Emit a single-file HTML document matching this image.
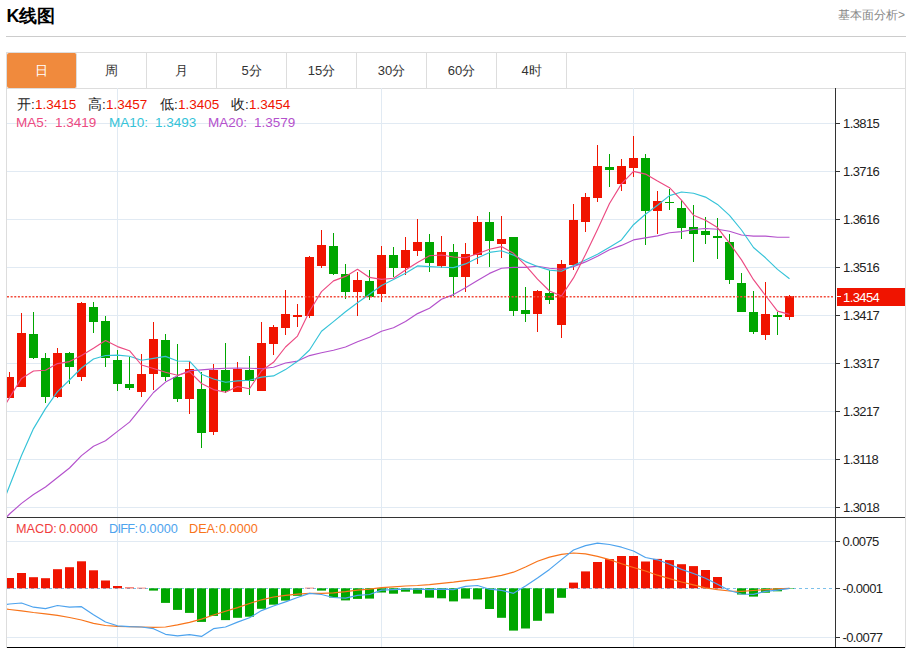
<!DOCTYPE html>
<html><head><meta charset="utf-8"><style>
html,body{margin:0;padding:0;background:#fff;width:913px;height:648px;overflow:hidden;font-family:"Liberation Sans",sans-serif;}
.title{position:absolute;left:6.5px;top:4px;font-size:18px;font-weight:bold;color:#000;line-height:24px;}
.more{position:absolute;right:8px;top:7px;font-size:12px;color:#888;line-height:16px;}
.hr{position:absolute;left:6px;top:36px;width:900px;height:1px;background:#ccc;}
.box{position:absolute;left:6px;top:52px;width:898px;height:600px;border:1px solid #ddd;border-bottom:none;}
.tabs{position:absolute;left:7px;top:53px;height:35px;width:898px;border-bottom:1px solid #ddd;}
.tab{position:absolute;top:0;width:69px;height:35px;border-right:1px solid #ddd;text-align:center;line-height:35px;font-size:13px;color:#333;}
.tab.on{background:#f08a3d;color:#fff;border-radius:2px;}
svg{position:absolute;left:0;top:0;}
.ax{font-size:13px;letter-spacing:-0.6px;fill:#222;font-family:"Liberation Sans",sans-serif;}
.tk{position:absolute;line-height:16px;white-space:pre;}
</style></head><body>
<div class="title">K线图</div>
<div class="more">基本面分析&gt;</div>
<div class="hr"></div>
<div class="box"></div>
<div class="tabs">
<div class="tab on" style="left:0">日</div>
<div class="tab" style="left:70px">周</div>
<div class="tab" style="left:140px">月</div>
<div class="tab" style="left:210px">5分</div>
<div class="tab" style="left:280px">15分</div>
<div class="tab" style="left:350px">30分</div>
<div class="tab" style="left:420px">60分</div>
<div class="tab" style="left:490px">4时</div>
</div>
<svg width="913" height="648" viewBox="0 0 913 648">
<defs>
<clipPath id="cm"><rect x="7" y="89" width="828" height="428"/></clipPath>
<clipPath id="cd"><rect x="7" y="518" width="828" height="129"/></clipPath>
</defs>
<line x1="7" y1="123.5" x2="835" y2="123.5" stroke="#e1eaf3"/><line x1="7" y1="171.5" x2="835" y2="171.5" stroke="#e1eaf3"/><line x1="7" y1="219.5" x2="835" y2="219.5" stroke="#e1eaf3"/><line x1="7" y1="267.5" x2="835" y2="267.5" stroke="#e1eaf3"/><line x1="7" y1="315.5" x2="835" y2="315.5" stroke="#e1eaf3"/><line x1="7" y1="363.5" x2="835" y2="363.5" stroke="#e1eaf3"/><line x1="7" y1="411.5" x2="835" y2="411.5" stroke="#e1eaf3"/><line x1="7" y1="459.5" x2="835" y2="459.5" stroke="#e1eaf3"/><line x1="7" y1="507.5" x2="835" y2="507.5" stroke="#e1eaf3"/><line x1="7" y1="541.5" x2="835" y2="541.5" stroke="#e1eaf3"/><line x1="7" y1="637.5" x2="835" y2="637.5" stroke="#e1eaf3"/><line x1="117.5" y1="88" x2="117.5" y2="647" stroke="#e1eaf3"/><line x1="381.5" y1="88" x2="381.5" y2="647" stroke="#e1eaf3"/><line x1="633.5" y1="88" x2="633.5" y2="647" stroke="#e1eaf3"/>
<g clip-path="url(#cm)"><rect x="5" y="377" width="9" height="21" fill="#f01400"/><rect x="9" y="372" width="1" height="5" fill="#f01400"/><rect x="17" y="333" width="9" height="54" fill="#f01400"/><rect x="21" y="313" width="1" height="20" fill="#f01400"/><rect x="29" y="334" width="9" height="24" fill="#00a600"/><rect x="33" y="312" width="1" height="22" fill="#00a600"/><rect x="33" y="358" width="1" height="1" fill="#00a600"/><rect x="41" y="358" width="9" height="39" fill="#00a600"/><rect x="45" y="353" width="1" height="5" fill="#00a600"/><rect x="45" y="397" width="1" height="6" fill="#00a600"/><rect x="53" y="353" width="9" height="44" fill="#f01400"/><rect x="57" y="348" width="1" height="5" fill="#f01400"/><rect x="57" y="397" width="1" height="1" fill="#f01400"/><rect x="65" y="353" width="9" height="14" fill="#00a600"/><rect x="69" y="352" width="1" height="1" fill="#00a600"/><rect x="69" y="367" width="1" height="17" fill="#00a600"/><rect x="77" y="303" width="9" height="74" fill="#f01400"/><rect x="81" y="302" width="1" height="1" fill="#f01400"/><rect x="81" y="377" width="1" height="4" fill="#f01400"/><rect x="89" y="307" width="9" height="15" fill="#00a600"/><rect x="93" y="302" width="1" height="5" fill="#00a600"/><rect x="93" y="322" width="1" height="11" fill="#00a600"/><rect x="101" y="321" width="9" height="37" fill="#00a600"/><rect x="105" y="316" width="1" height="5" fill="#00a600"/><rect x="105" y="358" width="1" height="9" fill="#00a600"/><rect x="113" y="360" width="9" height="24" fill="#00a600"/><rect x="117" y="350" width="1" height="10" fill="#00a600"/><rect x="117" y="384" width="1" height="7" fill="#00a600"/><rect x="125" y="384" width="9" height="4" fill="#00a600"/><rect x="129" y="357" width="1" height="27" fill="#00a600"/><rect x="129" y="388" width="1" height="2" fill="#00a600"/><rect x="137" y="374" width="9" height="18" fill="#f01400"/><rect x="141" y="354" width="1" height="20" fill="#f01400"/><rect x="141" y="392" width="1" height="5" fill="#f01400"/><rect x="149" y="339" width="9" height="35" fill="#f01400"/><rect x="153" y="322" width="1" height="17" fill="#f01400"/><rect x="153" y="374" width="1" height="16" fill="#f01400"/><rect x="161" y="340" width="9" height="37" fill="#00a600"/><rect x="165" y="334" width="1" height="6" fill="#00a600"/><rect x="165" y="377" width="1" height="4" fill="#00a600"/><rect x="173" y="377" width="9" height="22" fill="#00a600"/><rect x="177" y="344" width="1" height="33" fill="#00a600"/><rect x="177" y="399" width="1" height="3" fill="#00a600"/><rect x="185" y="369" width="9" height="30" fill="#f01400"/><rect x="189" y="361" width="1" height="8" fill="#f01400"/><rect x="189" y="399" width="1" height="15" fill="#f01400"/><rect x="197" y="389" width="9" height="44" fill="#00a600"/><rect x="201" y="372" width="1" height="17" fill="#00a600"/><rect x="201" y="433" width="1" height="15" fill="#00a600"/><rect x="209" y="370" width="9" height="62" fill="#f01400"/><rect x="213" y="364" width="1" height="6" fill="#f01400"/><rect x="213" y="432" width="1" height="3" fill="#f01400"/><rect x="221" y="370" width="9" height="21" fill="#00a600"/><rect x="225" y="343" width="1" height="27" fill="#00a600"/><rect x="225" y="391" width="1" height="2" fill="#00a600"/><rect x="233" y="369" width="9" height="23" fill="#f01400"/><rect x="237" y="362" width="1" height="7" fill="#f01400"/><rect x="245" y="370" width="9" height="11" fill="#00a600"/><rect x="249" y="356" width="1" height="14" fill="#00a600"/><rect x="249" y="381" width="1" height="14" fill="#00a600"/><rect x="257" y="343" width="9" height="48" fill="#f01400"/><rect x="261" y="322" width="1" height="21" fill="#f01400"/><rect x="269" y="327" width="9" height="17" fill="#f01400"/><rect x="273" y="325" width="1" height="2" fill="#f01400"/><rect x="273" y="344" width="1" height="11" fill="#f01400"/><rect x="281" y="314" width="9" height="14" fill="#f01400"/><rect x="285" y="290" width="1" height="24" fill="#f01400"/><rect x="285" y="328" width="1" height="7" fill="#f01400"/><rect x="293" y="315" width="9" height="2" fill="#f01400"/><rect x="297" y="304" width="1" height="11" fill="#f01400"/><rect x="297" y="317" width="1" height="10" fill="#f01400"/><rect x="305" y="257" width="9" height="59" fill="#f01400"/><rect x="309" y="256" width="1" height="1" fill="#f01400"/><rect x="309" y="316" width="1" height="2" fill="#f01400"/><rect x="317" y="245" width="9" height="21" fill="#f01400"/><rect x="321" y="230" width="1" height="15" fill="#f01400"/><rect x="321" y="266" width="1" height="2" fill="#f01400"/><rect x="329" y="246" width="9" height="28" fill="#00a600"/><rect x="333" y="233" width="1" height="13" fill="#00a600"/><rect x="333" y="274" width="1" height="1" fill="#00a600"/><rect x="341" y="274" width="9" height="18" fill="#00a600"/><rect x="345" y="264" width="1" height="10" fill="#00a600"/><rect x="345" y="292" width="1" height="7" fill="#00a600"/><rect x="353" y="280" width="9" height="12" fill="#f01400"/><rect x="357" y="272" width="1" height="8" fill="#f01400"/><rect x="357" y="292" width="1" height="24" fill="#f01400"/><rect x="365" y="281" width="9" height="16" fill="#00a600"/><rect x="369" y="270" width="1" height="11" fill="#00a600"/><rect x="369" y="297" width="1" height="3" fill="#00a600"/><rect x="377" y="255" width="9" height="39" fill="#f01400"/><rect x="381" y="246" width="1" height="9" fill="#f01400"/><rect x="381" y="294" width="1" height="8" fill="#f01400"/><rect x="389" y="255" width="9" height="13" fill="#00a600"/><rect x="393" y="247" width="1" height="8" fill="#00a600"/><rect x="393" y="268" width="1" height="9" fill="#00a600"/><rect x="401" y="250" width="9" height="18" fill="#f01400"/><rect x="405" y="237" width="1" height="13" fill="#f01400"/><rect x="405" y="268" width="1" height="7" fill="#f01400"/><rect x="413" y="242" width="9" height="9" fill="#f01400"/><rect x="417" y="219" width="1" height="23" fill="#f01400"/><rect x="417" y="251" width="1" height="5" fill="#f01400"/><rect x="425" y="242" width="9" height="21" fill="#00a600"/><rect x="429" y="234" width="1" height="8" fill="#00a600"/><rect x="429" y="263" width="1" height="9" fill="#00a600"/><rect x="437" y="252" width="9" height="14" fill="#f01400"/><rect x="441" y="236" width="1" height="16" fill="#f01400"/><rect x="441" y="266" width="1" height="2" fill="#f01400"/><rect x="449" y="252" width="9" height="25" fill="#00a600"/><rect x="453" y="244" width="1" height="8" fill="#00a600"/><rect x="453" y="277" width="1" height="19" fill="#00a600"/><rect x="461" y="254" width="9" height="23" fill="#f01400"/><rect x="465" y="243" width="1" height="11" fill="#f01400"/><rect x="465" y="277" width="1" height="15" fill="#f01400"/><rect x="473" y="222" width="9" height="33" fill="#f01400"/><rect x="477" y="216" width="1" height="6" fill="#f01400"/><rect x="477" y="255" width="1" height="9" fill="#f01400"/><rect x="485" y="222" width="9" height="19" fill="#00a600"/><rect x="489" y="212" width="1" height="10" fill="#00a600"/><rect x="489" y="241" width="1" height="26" fill="#00a600"/><rect x="497" y="239" width="9" height="5" fill="#f01400"/><rect x="501" y="216" width="1" height="23" fill="#f01400"/><rect x="501" y="244" width="1" height="14" fill="#f01400"/><rect x="509" y="237" width="9" height="74" fill="#00a600"/><rect x="513" y="311" width="1" height="5" fill="#00a600"/><rect x="521" y="310" width="9" height="4" fill="#00a600"/><rect x="525" y="287" width="1" height="23" fill="#00a600"/><rect x="525" y="314" width="1" height="8" fill="#00a600"/><rect x="533" y="291" width="9" height="23" fill="#f01400"/><rect x="537" y="290" width="1" height="1" fill="#f01400"/><rect x="537" y="314" width="1" height="18" fill="#f01400"/><rect x="545" y="293" width="9" height="7" fill="#00a600"/><rect x="549" y="270" width="1" height="23" fill="#00a600"/><rect x="549" y="300" width="1" height="4" fill="#00a600"/><rect x="557" y="264" width="9" height="61" fill="#f01400"/><rect x="561" y="260" width="1" height="4" fill="#f01400"/><rect x="561" y="325" width="1" height="13" fill="#f01400"/><rect x="569" y="220" width="9" height="45" fill="#f01400"/><rect x="573" y="204" width="1" height="16" fill="#f01400"/><rect x="573" y="265" width="1" height="5" fill="#f01400"/><rect x="581" y="197" width="9" height="25" fill="#f01400"/><rect x="585" y="193" width="1" height="4" fill="#f01400"/><rect x="585" y="222" width="1" height="10" fill="#f01400"/><rect x="593" y="166" width="9" height="32" fill="#f01400"/><rect x="597" y="145" width="1" height="21" fill="#f01400"/><rect x="597" y="198" width="1" height="4" fill="#f01400"/><rect x="605" y="167" width="9" height="3" fill="#00a600"/><rect x="609" y="154" width="1" height="13" fill="#00a600"/><rect x="609" y="170" width="1" height="17" fill="#00a600"/><rect x="617" y="166" width="9" height="18" fill="#f01400"/><rect x="621" y="159" width="1" height="7" fill="#f01400"/><rect x="621" y="184" width="1" height="7" fill="#f01400"/><rect x="629" y="158" width="9" height="10" fill="#f01400"/><rect x="633" y="136" width="1" height="22" fill="#f01400"/><rect x="633" y="168" width="1" height="9" fill="#f01400"/><rect x="641" y="158" width="9" height="53" fill="#00a600"/><rect x="645" y="154" width="1" height="4" fill="#00a600"/><rect x="645" y="211" width="1" height="34" fill="#00a600"/><rect x="653" y="201" width="9" height="10" fill="#f01400"/><rect x="657" y="191" width="1" height="10" fill="#f01400"/><rect x="657" y="211" width="1" height="23" fill="#f01400"/><rect x="665" y="202" width="9" height="1" fill="#00a600"/><rect x="669" y="189" width="1" height="13" fill="#00a600"/><rect x="669" y="203" width="1" height="7" fill="#00a600"/><rect x="677" y="208" width="9" height="20" fill="#00a600"/><rect x="681" y="200" width="1" height="8" fill="#00a600"/><rect x="681" y="228" width="1" height="11" fill="#00a600"/><rect x="689" y="227" width="9" height="7" fill="#00a600"/><rect x="693" y="205" width="1" height="22" fill="#00a600"/><rect x="693" y="234" width="1" height="28" fill="#00a600"/><rect x="701" y="231" width="9" height="4" fill="#00a600"/><rect x="705" y="217" width="1" height="14" fill="#00a600"/><rect x="705" y="235" width="1" height="9" fill="#00a600"/><rect x="713" y="236" width="9" height="2" fill="#00a600"/><rect x="717" y="218" width="1" height="18" fill="#00a600"/><rect x="717" y="238" width="1" height="21" fill="#00a600"/><rect x="725" y="242" width="9" height="38" fill="#00a600"/><rect x="729" y="234" width="1" height="8" fill="#00a600"/><rect x="729" y="280" width="1" height="4" fill="#00a600"/><rect x="737" y="283" width="9" height="29" fill="#00a600"/><rect x="741" y="273" width="1" height="10" fill="#00a600"/><rect x="749" y="312" width="9" height="20" fill="#00a600"/><rect x="753" y="291" width="1" height="21" fill="#00a600"/><rect x="753" y="332" width="1" height="2" fill="#00a600"/><rect x="761" y="314" width="9" height="21" fill="#f01400"/><rect x="765" y="282" width="1" height="32" fill="#f01400"/><rect x="765" y="335" width="1" height="5" fill="#f01400"/><rect x="773" y="315" width="9" height="2" fill="#00a600"/><rect x="777" y="312" width="1" height="3" fill="#00a600"/><rect x="777" y="317" width="1" height="18" fill="#00a600"/><rect x="785" y="296" width="9" height="21" fill="#f01400"/><rect x="789" y="295" width="1" height="1" fill="#f01400"/><rect x="789" y="317" width="1" height="3" fill="#f01400"/><polyline points="-2.5,527.0 9.5,514.0 21.5,503.4 33.5,494.5 45.5,487.0 57.5,477.5 69.5,468.0 81.5,455.6 93.5,446.2 105.5,440.8 117.5,431.4 129.5,422.1 141.5,407.3 153.5,392.5 165.5,382.1 177.5,375.8 189.5,370.8 201.5,369.9 213.5,368.9 225.5,368.3 237.5,368.0 249.5,368.2 261.5,368.7 273.5,367.2 285.5,363.0 297.5,361.1 309.5,355.6 321.5,352.7 333.5,350.3 345.5,347.0 357.5,341.8 369.5,337.3 381.5,331.3 393.5,327.8 405.5,321.4 417.5,313.6 429.5,308.3 441.5,299.2 453.5,294.6 465.5,287.8 477.5,280.4 489.5,273.4 501.5,268.2 513.5,267.4 525.5,267.4 537.5,266.2 549.5,268.3 561.5,269.3 573.5,266.6 585.5,261.9 597.5,256.2 609.5,249.8 621.5,245.4 633.5,239.9 645.5,237.9 657.5,235.9 669.5,232.8 681.5,231.6 693.5,229.5 705.5,228.5 717.5,229.3 729.5,231.3 741.5,235.0 753.5,236.1 765.5,236.1 777.5,237.3 789.5,237.2" fill="none" stroke="#b451cc" stroke-width="1.15" stroke-linejoin="round"/><polyline points="-2.5,516.5 9.5,486.0 21.5,455.5 33.5,428.6 45.5,408.6 57.5,391.6 69.5,380.0 81.5,368.0 93.5,359.0 105.5,355.5 117.5,355.1 129.5,356.2 141.5,360.2 153.5,358.4 165.5,356.4 177.5,361.0 189.5,361.2 201.5,374.2 213.5,379.0 225.5,382.3 237.5,380.9 249.5,380.2 261.5,377.1 273.5,375.9 285.5,369.6 297.5,361.3 309.5,350.0 321.5,331.2 333.5,321.6 345.5,311.7 357.5,302.7 369.5,294.3 381.5,285.5 393.5,279.6 405.5,273.2 417.5,265.9 429.5,266.6 441.5,267.2 453.5,267.6 465.5,263.9 477.5,258.1 489.5,252.4 501.5,250.8 513.5,255.1 525.5,261.6 537.5,266.5 549.5,270.1 561.5,271.3 573.5,265.6 585.5,259.9 597.5,254.3 609.5,247.2 621.5,239.9 633.5,224.7 645.5,214.3 657.5,205.3 669.5,195.6 681.5,192.0 693.5,193.3 705.5,197.1 717.5,204.4 729.5,215.4 741.5,230.0 753.5,247.5 765.5,257.8 777.5,269.4 789.5,278.7" fill="none" stroke="#35c3d8" stroke-width="1.15" stroke-linejoin="round"/><polyline points="-2.5,417.0 9.5,397.8 21.5,378.4 33.5,371.0 45.5,370.2 57.5,363.6 69.5,361.6 81.5,355.5 93.5,348.2 105.5,340.5 117.5,346.6 129.5,350.7 141.5,365.0 153.5,368.5 165.5,372.3 177.5,375.3 189.5,371.7 201.5,383.5 213.5,389.6 225.5,392.3 237.5,386.5 249.5,388.8 261.5,370.8 273.5,362.3 285.5,347.0 297.5,336.1 309.5,311.2 321.5,291.6 333.5,280.9 345.5,276.4 357.5,269.3 369.5,277.4 381.5,279.4 393.5,278.3 405.5,270.0 417.5,262.4 429.5,255.7 441.5,255.0 453.5,257.0 465.5,257.8 477.5,253.7 489.5,249.2 501.5,246.6 513.5,253.3 525.5,265.3 537.5,279.2 549.5,291.0 561.5,296.0 573.5,277.9 585.5,254.5 597.5,229.4 609.5,203.5 621.5,183.9 633.5,171.4 645.5,174.1 657.5,181.1 669.5,187.7 681.5,200.1 693.5,215.2 705.5,220.2 717.5,227.6 729.5,243.1 741.5,259.9 753.5,279.7 765.5,295.5 777.5,311.1 789.5,314.4" fill="none" stroke="#ec4a82" stroke-width="1.15" stroke-linejoin="round"/><line x1="7" y1="296.75" x2="834" y2="296.75" stroke="#f24a3a" stroke-width="1.3" stroke-dasharray="2 1.63"/></g>
<g clip-path="url(#cd)"><line x1="7" y1="588.5" x2="834" y2="588.5" stroke="#7cc0ea" stroke-width="1" stroke-dasharray="3 3"/><rect x="5" y="578.0" width="9" height="10.3" fill="#f01400"/><rect x="17" y="573.0" width="9" height="15.3" fill="#f01400"/><rect x="29" y="577.2" width="9" height="11.1" fill="#f01400"/><rect x="41" y="578.2" width="9" height="10.1" fill="#f01400"/><rect x="53" y="569.2" width="9" height="19.1" fill="#f01400"/><rect x="65" y="567.2" width="9" height="21.1" fill="#f01400"/><rect x="77" y="561.3" width="9" height="27.0" fill="#f01400"/><rect x="89" y="570.3" width="9" height="18.0" fill="#f01400"/><rect x="101" y="580.5" width="9" height="7.8" fill="#f01400"/><rect x="113" y="586.0" width="9" height="2.3" fill="#f01400"/><rect x="125" y="587.5" width="9" height="0.8" fill="#f01400"/><rect x="137" y="587.8" width="9" height="0.5" fill="#f01400"/><rect x="149" y="588.3" width="9" height="2.3" fill="#00a600"/><rect x="161" y="588.3" width="9" height="14.6" fill="#00a600"/><rect x="173" y="588.3" width="9" height="21.6" fill="#00a600"/><rect x="185" y="588.3" width="9" height="24.6" fill="#00a600"/><rect x="197" y="588.3" width="9" height="33.6" fill="#00a600"/><rect x="209" y="588.3" width="9" height="27.6" fill="#00a600"/><rect x="221" y="588.3" width="9" height="31.8" fill="#00a600"/><rect x="233" y="588.3" width="9" height="29.5" fill="#00a600"/><rect x="245" y="588.3" width="9" height="28.4" fill="#00a600"/><rect x="257" y="588.3" width="9" height="20.5" fill="#00a600"/><rect x="269" y="588.3" width="9" height="16.4" fill="#00a600"/><rect x="281" y="588.3" width="9" height="12.3" fill="#00a600"/><rect x="293" y="588.3" width="9" height="7.5" fill="#00a600"/><rect x="305" y="587.8" width="9" height="0.5" fill="#f01400"/><rect x="317" y="588.3" width="9" height="2.3" fill="#00a600"/><rect x="329" y="588.3" width="9" height="9.2" fill="#00a600"/><rect x="341" y="588.3" width="9" height="12.1" fill="#00a600"/><rect x="353" y="588.3" width="9" height="10.6" fill="#00a600"/><rect x="365" y="588.3" width="9" height="10.3" fill="#00a600"/><rect x="377" y="588.3" width="9" height="4.2" fill="#00a600"/><rect x="389" y="588.3" width="9" height="5.4" fill="#00a600"/><rect x="401" y="588.3" width="9" height="3.4" fill="#00a600"/><rect x="413" y="588.3" width="9" height="5.4" fill="#00a600"/><rect x="425" y="588.3" width="9" height="9.4" fill="#00a600"/><rect x="437" y="588.3" width="9" height="10.0" fill="#00a600"/><rect x="449" y="588.3" width="9" height="13.1" fill="#00a600"/><rect x="461" y="588.3" width="9" height="10.3" fill="#00a600"/><rect x="473" y="588.3" width="9" height="11.1" fill="#00a600"/><rect x="485" y="588.3" width="9" height="20.7" fill="#00a600"/><rect x="497" y="588.3" width="9" height="29.5" fill="#00a600"/><rect x="509" y="588.3" width="9" height="42.3" fill="#00a600"/><rect x="521" y="588.3" width="9" height="40.2" fill="#00a600"/><rect x="533" y="588.3" width="9" height="32.5" fill="#00a600"/><rect x="545" y="588.3" width="9" height="25.1" fill="#00a600"/><rect x="557" y="588.3" width="9" height="9.5" fill="#00a600"/><rect x="569" y="582.6" width="9" height="5.7" fill="#f01400"/><rect x="581" y="571.4" width="9" height="16.9" fill="#f01400"/><rect x="593" y="562.0" width="9" height="26.3" fill="#f01400"/><rect x="605" y="559.1" width="9" height="29.2" fill="#f01400"/><rect x="617" y="556.0" width="9" height="32.3" fill="#f01400"/><rect x="629" y="556.0" width="9" height="32.3" fill="#f01400"/><rect x="641" y="561.5" width="9" height="26.8" fill="#f01400"/><rect x="653" y="558.9" width="9" height="29.4" fill="#f01400"/><rect x="665" y="560.1" width="9" height="28.2" fill="#f01400"/><rect x="677" y="564.2" width="9" height="24.1" fill="#f01400"/><rect x="689" y="566.1" width="9" height="22.2" fill="#f01400"/><rect x="701" y="570.0" width="9" height="18.3" fill="#f01400"/><rect x="713" y="577.0" width="9" height="11.3" fill="#f01400"/><rect x="725" y="588.3" width="9" height="0.0" fill="#00a600"/><rect x="737" y="588.3" width="9" height="6.2" fill="#00a600"/><rect x="749" y="588.3" width="9" height="8.3" fill="#00a600"/><rect x="761" y="588.3" width="9" height="4.4" fill="#00a600"/><rect x="773" y="588.3" width="9" height="3.0" fill="#00a600"/><rect x="785" y="588.3" width="9" height="0.5" fill="#00a600"/><polyline points="-2.5,608.0 9.5,609.5 21.5,610.8 33.5,612.5 45.5,613.8 57.5,615.3 69.5,617.5 81.5,620.0 93.5,623.3 105.5,625.5 117.5,626.3 129.5,626.7 141.5,627.0 153.5,627.4 165.5,627.0 177.5,624.9 189.5,622.4 201.5,619.1 213.5,615.0 225.5,611.3 237.5,607.6 249.5,603.5 261.5,599.8 273.5,597.0 285.5,595.3 297.5,594.2 309.5,593.4 321.5,593.4 333.5,592.9 345.5,591.7 357.5,590.1 369.5,589.2 381.5,587.6 393.5,586.8 405.5,586.0 417.5,585.5 429.5,584.6 441.5,583.3 453.5,582.2 465.5,580.7 477.5,579.4 489.5,577.7 501.5,575.3 513.5,572.2 525.5,567.0 537.5,561.2 549.5,557.1 561.5,554.3 573.5,553.0 585.5,553.8 597.5,556.3 609.5,559.6 621.5,563.7 633.5,567.5 645.5,571.0 657.5,575.2 669.5,578.7 681.5,582.0 693.5,584.9 705.5,587.8 717.5,589.6 729.5,591.0 741.5,591.3 753.5,590.5 765.5,589.6 777.5,588.9 789.5,588.4" fill="none" stroke="#f8741a" stroke-width="1.2" stroke-linejoin="round"/><polyline points="-2.5,605.5 9.5,604.0 21.5,603.0 33.5,607.2 45.5,608.7 57.5,605.5 69.5,607.2 81.5,606.7 93.5,614.7 105.5,622.0 117.5,625.8 129.5,626.7 141.5,627.0 153.5,628.7 165.5,634.3 177.5,635.9 189.5,634.7 201.5,636.4 213.5,628.7 225.5,627.0 237.5,622.1 249.5,617.8 261.5,610.6 273.5,606.0 285.5,601.9 297.5,597.5 309.5,593.4 321.5,594.5 333.5,597.5 345.5,598.1 357.5,595.3 369.5,594.5 381.5,590.1 393.5,589.6 405.5,589.2 417.5,589.2 429.5,589.6 441.5,589.2 453.5,589.6 465.5,586.3 477.5,585.5 489.5,589.2 501.5,590.4 513.5,593.3 525.5,585.9 537.5,578.1 549.5,569.4 561.5,559.6 573.5,550.0 585.5,545.6 597.5,543.1 609.5,544.5 621.5,547.2 633.5,551.0 645.5,557.5 657.5,559.8 669.5,564.2 681.5,569.4 693.5,573.5 705.5,578.2 717.5,584.3 729.5,590.5 741.5,594.0 753.5,594.3 765.5,591.3 777.5,590.1 789.5,588.4" fill="none" stroke="#4da3ee" stroke-width="1.2" stroke-linejoin="round"/></g>
<line x1="835.5" y1="88" x2="835.5" y2="648" stroke="#333"/><line x1="7" y1="517.5" x2="905" y2="517.5" stroke="#333"/><line x1="7" y1="647.5" x2="905" y2="647.5" stroke="#000"/><line x1="835" y1="123.5" x2="840" y2="123.5" stroke="#333"/><text x="843" y="128" class="ax">1.3815</text><line x1="835" y1="171.5" x2="840" y2="171.5" stroke="#333"/><text x="843" y="176" class="ax">1.3716</text><line x1="835" y1="219.5" x2="840" y2="219.5" stroke="#333"/><text x="843" y="224" class="ax">1.3616</text><line x1="835" y1="267.5" x2="840" y2="267.5" stroke="#333"/><text x="843" y="272" class="ax">1.3516</text><line x1="835" y1="315.5" x2="840" y2="315.5" stroke="#333"/><text x="843" y="320" class="ax">1.3417</text><line x1="835" y1="363.5" x2="840" y2="363.5" stroke="#333"/><text x="843" y="368" class="ax">1.3317</text><line x1="835" y1="411.5" x2="840" y2="411.5" stroke="#333"/><text x="843" y="416" class="ax">1.3217</text><line x1="835" y1="459.5" x2="840" y2="459.5" stroke="#333"/><text x="843" y="464" class="ax">1.3118</text><line x1="835" y1="507.5" x2="840" y2="507.5" stroke="#333"/><text x="843" y="512" class="ax">1.3018</text><line x1="835" y1="541.5" x2="840" y2="541.5" stroke="#333"/><text x="842.5" y="546" class="ax">0.0075</text><line x1="835" y1="588.5" x2="840" y2="588.5" stroke="#333"/><text x="842.5" y="593" class="ax">-0.0001</text><line x1="835" y1="637.5" x2="840" y2="637.5" stroke="#333"/><text x="842.5" y="642" class="ax">-0.0077</text><rect x="837" y="288" width="68" height="18" fill="#f01400"/><line x1="837" y1="296.5" x2="841" y2="296.5" stroke="#fff"/><text x="843" y="302" class="ax" fill="#fff" style="fill:#fff">1.3454</text>
</svg>
<span class="tk" style="left:17px;top:97px;color:#222;font-size:13.5px">开:</span><span class="tk" style="left:35px;top:97px;color:#f01400;font-size:13.5px">1.3415</span><span class="tk" style="left:88px;top:97px;color:#222;font-size:13.5px">高:</span><span class="tk" style="left:106px;top:97px;color:#f01400;font-size:13.5px">1.3457</span><span class="tk" style="left:160px;top:97px;color:#222;font-size:13.5px">低:</span><span class="tk" style="left:178px;top:97px;color:#f01400;font-size:13.5px">1.3405</span><span class="tk" style="left:231px;top:97px;color:#222;font-size:13.5px">收:</span><span class="tk" style="left:249px;top:97px;color:#f01400;font-size:13.5px">1.3454</span><span class="tk" style="left:16px;top:115px;color:#ec4a82;font-size:13.5px">MA5:</span><span class="tk" style="left:55px;top:115px;color:#ec4a82;font-size:13.5px">1.3419</span><span class="tk" style="left:109px;top:115px;color:#35c3d8;font-size:13.5px">MA10:</span><span class="tk" style="left:155px;top:115px;color:#35c3d8;font-size:13.5px">1.3493</span><span class="tk" style="left:208px;top:115px;color:#b451cc;font-size:13.5px">MA20:</span><span class="tk" style="left:254px;top:115px;color:#b451cc;font-size:13.5px">1.3579</span><span class="tk" style="left:16px;top:521px;color:#f03c3c;font-size:12.7px">MACD:</span><span class="tk" style="left:59px;top:521px;color:#f03c3c;font-size:12.7px">0.0000</span><span class="tk" style="left:109px;top:521px;color:#4da3ee;font-size:12.7px"><span style="letter-spacing:-0.7px">DIFF:</span></span><span class="tk" style="left:139px;top:521px;color:#4da3ee;font-size:12.7px">0.0000</span><span class="tk" style="left:189px;top:521px;color:#f8741a;font-size:12.7px">DEA:</span><span class="tk" style="left:219px;top:521px;color:#f8741a;font-size:12.7px">0.0000</span>
</body></html>
